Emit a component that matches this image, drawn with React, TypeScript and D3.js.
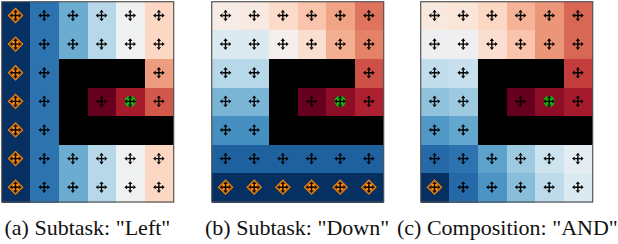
import React, { useEffect, useRef } from "react";
import * as d3 from "d3";

// t values for d3.interpolateRdBu, null = wall
const panelA = [
  [1, 0.87, 0.75, 0.64, 0.51, 0.4],
  [1, 0.87, 0.75, 0.64, 0.51, 0.4],
  [1, 0.87, null, null, null, 0.29],
  [1, 0.87, null, 0, 0.09, 0.19],
  [1, 0.87, null, null, null, null],
  [1, 0.87, 0.75, 0.64, 0.51, 0.4],
  [1, 0.87, 0.75, 0.64, 0.51, 0.4],
];
const panelB = [
  [0.47, 0.46, 0.41, 0.36, 0.3, 0.23],
  [0.57, 0.57, 0.49, 0.42, 0.32, 0.25],
  [0.64, 0.64, null, null, null, 0.18],
  [0.73, 0.73, null, 0, 0.05, 0.1],
  [0.81, 0.81, null, null, null, null],
  [0.91, 0.91, 0.91, 0.91, 0.91, 0.91],
  [1, 1, 1, 1, 1, 1],
];
const panelC = [
  [0.45, 0.44, 0.4, 0.33, 0.28, 0.21],
  [0.52, 0.52, 0.42, 0.36, 0.28, 0.21],
  [0.62, 0.61, null, null, null, 0.15],
  [0.7, 0.68, null, 0, 0.05, 0.09],
  [0.79, 0.76, null, null, null, null],
  [0.89, 0.87, 0.77, 0.68, 0.6, 0.55],
  [1, 0.89, 0.8, 0.71, 0.63, 0.57],
];
const captions = ['(a) Subtask: "Left"', '(b) Subtask: "Down"', '(c) Composition: "AND"'];
const captionX = [4.5, 205, 397];
const panelLeft = [1.7, 211.7, 420.7];
const goal = { row: 3, col: 4 };
const isStart = (p: number, row: number, col: number) =>
  p === 0 ? col === 0 : p === 1 ? row === 6 : row === 6 && col === 0;

const matrices = [panelA, panelB, panelC];

const R = 5.8;
const H = 2.7;

const arrowPath = (() => {
  const p = d3.path();
  p.moveTo(-R + H, 0);
  p.lineTo(R - H, 0);
  p.moveTo(0, -R + H);
  p.lineTo(0, R - H);
  return p.toString();
})();

const heads = (() => {
  const p = d3.path();
  [
    [1, 0],
    [-1, 0],
    [0, 1],
    [0, -1],
  ].forEach(([dx, dy]) => {
    p.moveTo(dx * R, dy * R);
    p.lineTo(dx * (R - H) - dy * H * 0.8, dy * (R - H) - dx * H * 0.8);
    p.lineTo(dx * (R - H) + dy * H * 0.8, dy * (R - H) + dx * H * 0.8);
    p.closePath();
  });
  return p.toString();
})();

const App = () => {
  const svgRef = useRef<SVGSVGElement>(null);

  useEffect(() => {
    const svg = d3.select(svgRef.current);
    svg.selectAll("*").remove();

    const color = d3.scaleSequential(d3.interpolateRdBu).domain([0, 1]);
    const rows = d3.range(7);
    const cols = d3.range(6);
    const y = d3.scaleBand<number>().domain(rows).range([1.7, 202]);
    const panelW = 172;

    matrices.forEach((matrix, p) => {
      const x = d3
        .scaleBand<number>()
        .domain(cols)
        .range([panelLeft[p], panelLeft[p] + panelW]);
      const g = svg.append("g");
      const cells = matrix.flatMap((line, row) =>
        line.map((value, col) => ({ row, col, value }))
      );

      g.selectAll("rect.cell")
        .data(cells)
        .join("rect")
        .attr("class", "cell")
        .attr("x", (d) => x(d.col)!)
        .attr("y", (d) => y(d.row)!)
        .attr("width", x.bandwidth() + 0.5)
        .attr("height", y.bandwidth() + 0.5)
        .attr("shape-rendering", "crispEdges")
        .attr("fill", (d) => (d.value === null ? "#000" : color(d.value)));

      const open = cells.filter((d) => d.value !== null);
      const centre = (d: { row: number; col: number }) =>
        `translate(${x(d.col)! + x.bandwidth() / 2 - 0.5},${y(d.row)! + y.bandwidth() / 2 - 0.5})`;

      // start cells: orange diamond with a darker inner outline
      const start = open.filter((d) => isStart(p, d.row, d.col));
      g.selectAll("path.start")
        .data(start)
        .join("path")
        .attr("class", "start")
        .attr("d", d3.symbol(d3.symbolSquare, 125)())
        .attr("transform", (d) => `${centre(d)} rotate(45)`)
        .attr("fill", "#ff8c0e");
      g.selectAll("path.startline")
        .data(start)
        .join("path")
        .attr("class", "startline")
        .attr("d", d3.symbol(d3.symbolSquare, 85)())
        .attr("transform", (d) => `${centre(d)} rotate(45)`)
        .attr("fill", "none")
        .attr("stroke", "#a85a12")
        .attr("stroke-width", 0.8);

      // goal
      g.selectAll("circle.goal")
        .data(open.filter((d) => d.row === goal.row && d.col === goal.col))
        .join("circle")
        .attr("class", "goal")
        .attr("transform", centre)
        .attr("r", 5.6)
        .attr("fill", "#16b312");

      // action arrows in every open cell
      const arrows = g
        .selectAll("g.arrow")
        .data(open)
        .join("g")
        .attr("class", "arrow")
        .attr("transform", centre);
      arrows
        .append("path")
        .attr("d", arrowPath)
        .attr("fill", "none")
        .attr("stroke", "#000")
        .attr("stroke-width", 1.4);
      arrows.append("path").attr("d", heads).attr("fill", "#000");

      g.append("rect")
        .attr("x", panelLeft[p])
        .attr("y", 1.7)
        .attr("width", panelW)
        .attr("height", 200.3)
        .attr("fill", "none")
        .attr("stroke", "#555")
        .attr("stroke-width", 1.2);
    });

    svg
      .selectAll("text.caption")
      .data(captions)
      .join("text")
      .attr("class", "caption")
      .attr("x", (_, i) => captionX[i])
      .attr("y", 234.5)
      .attr("font-family", "Liberation Serif")
      .attr("font-size", 22)
      .attr("fill", "#111")
      .text((d) => d);
  }, []);

  return (
    <svg
      ref={svgRef}
      width={618}
      height={244}
      style={{ position: "absolute", left: 0, top: 0, background: "#fff" }}
    />
  );
};

export default App;
